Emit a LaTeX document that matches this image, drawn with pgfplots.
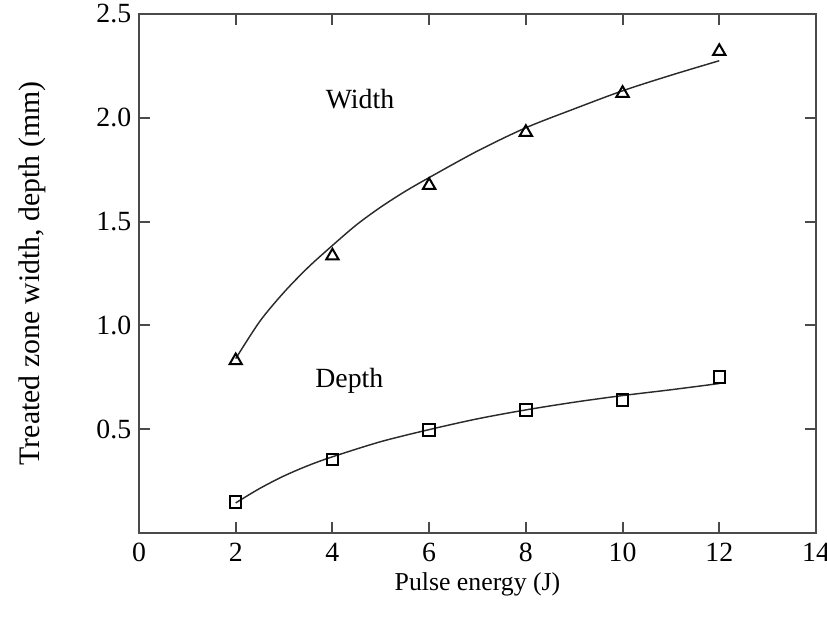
\documentclass[border=0pt]{standalone}
\usepackage{pgfplots}
\pgfplotsset{compat=1.18}
\usepackage{fontspec}
\setmainfont{Liberation Serif}
\definecolor{axgray}{HTML}{4A4A4A}
\definecolor{crv}{HTML}{2A2A2A}
\begin{document}
\begin{tikzpicture}
\begin{axis}[
  name=main,
  scale only axis,
  width=304.65pt, height=233.55pt,
  xmin=0, xmax=14, ymin=0, ymax=2.5,
  xtick={0,2,...,14},
  ytick={0.5,1.0,1.5,2.0,2.5},
  tick align=inside,
  major tick length=5pt,
  axis line style={axgray, line width=0.9pt},
  tick style={axgray, line width=0.9pt},
  /pgf/number format/assume math mode=true,
  yticklabel style={/pgf/number format/.cd, fixed, fixed zerofill, precision=1},
  ticklabel style={font=\fontsize{12.5}{14}\selectfont, text=black},
  xticklabel style={yshift=-1pt},
  xlabel={Pulse energy (J)},
  ylabel={Treated zone width, depth (mm)},
  xlabel style={font=\fontsize{11.6}{14}\selectfont, yshift=2pt},
  ylabel style={font=\fontsize{13.4}{15}\selectfont, yshift=16pt},
  clip=false,
]
% Width fitted curve
\addplot[crv, line width=0.65pt, smooth, no marks] coordinates {
 (2,0.84) (2.5,1.02) (3,1.16) (3.5,1.28) (4,1.385) (4.5,1.485) (5,1.57) (5.5,1.645) (6,1.712) (7,1.84) (8,1.952) (9,2.043) (10,2.13) (11,2.205) (12,2.275)};
% Width data
\addplot[only marks, mark=triangle, mark size=3.2pt, mark options={black, line width=0.9pt, fill=white}] coordinates {
 (2,0.83) (4,1.335) (6,1.675) (8,1.93) (10,2.118) (12,2.32)};
% Depth fitted curve
\addplot[crv, line width=0.65pt, smooth, no marks] coordinates {
 (2,0.145) (2.5,0.215) (3,0.275) (3.5,0.325) (4,0.367) (5,0.44) (6,0.498) (7,0.55) (8,0.593) (9,0.63) (10,0.662) (11,0.69) (12,0.72)};
% Depth data
\addplot[only marks, mark=square, mark size=2.6pt, mark options={black, line width=0.9pt, fill=white}] coordinates {
 (2,0.149) (4,0.355) (6,0.497) (8,0.592) (10,0.64) (12,0.752)};
\node[font=\fontsize{12.5}{14}\selectfont] at (axis cs:4.57,2.09) {Width};
\node[font=\fontsize{12.5}{14}\selectfont] at (axis cs:4.35,0.735) {Depth};
\end{axis}
\pgfresetboundingbox
\useasboundingbox ([xshift=-62.55pt, yshift=-37.8pt]main.south west) rectangle ([xshift=4.95pt, yshift=6.3pt]main.north east);
\end{tikzpicture}
\end{document}
